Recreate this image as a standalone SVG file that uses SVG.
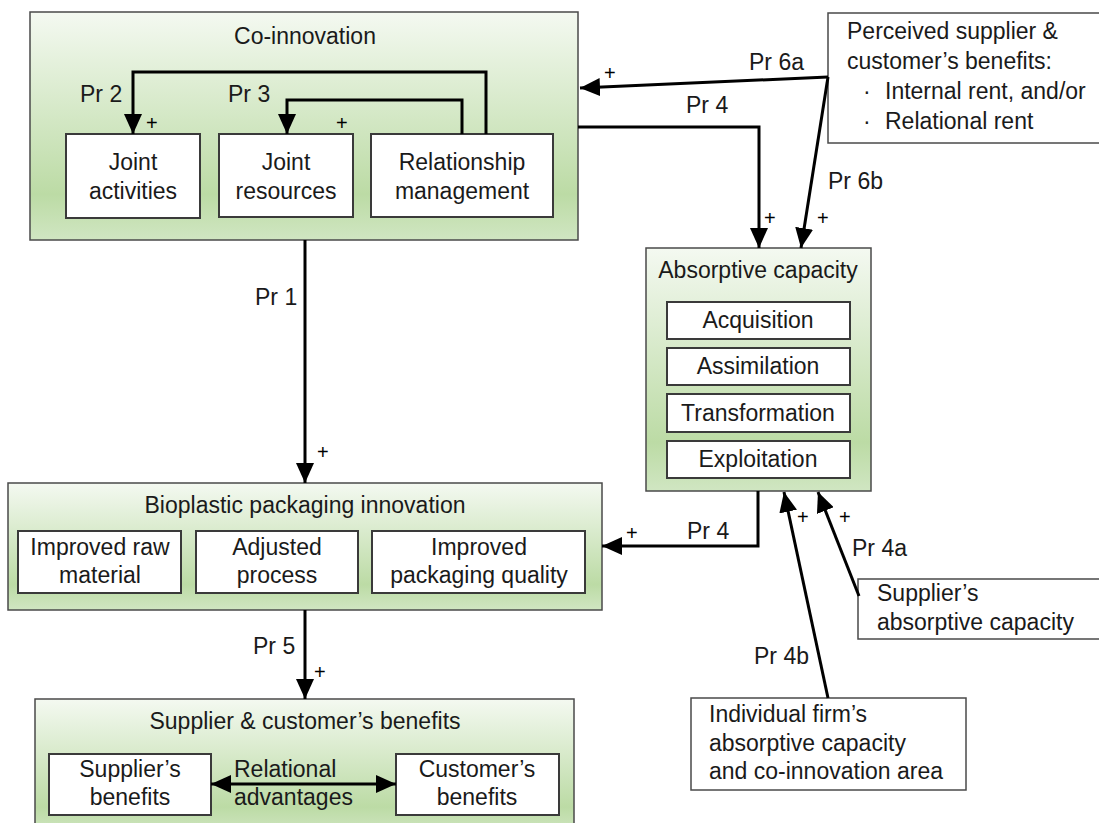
<svg xmlns="http://www.w3.org/2000/svg" width="1099" height="823" viewBox="0 0 1099 823">
  <defs>
    <linearGradient id="green" x1="0" y1="0" x2="0" y2="1">
      <stop offset="0" stop-color="#f4f9f1"/>
      <stop offset="0.8" stop-color="#bcdba5"/>
      <stop offset="1" stop-color="#d0e6c2"/>
    </linearGradient>
    <marker id="head" markerUnits="userSpaceOnUse" markerWidth="20" markerHeight="18" refX="20" refY="9" orient="auto-start-reverse">
      <path d="M0,0 L20,9 L0,18 z" fill="#000"/>
    </marker>
    <style>
      text { font-family: "Liberation Sans", Arial, sans-serif; font-size: 23px; fill: #1a1a1a; }
      .c { text-anchor: middle; }
      .plus { font-size: 20px; fill: #000; }
      .group { fill: url(#green); stroke: #4a4a4a; stroke-width: 1.5; }
      .item { fill: #fff; stroke: #3a3a3a; stroke-width: 2; }
      .note { fill: #fff; stroke: #4a4a4a; stroke-width: 1.5; }
      .link { fill: none; stroke: #000; stroke-width: 3; marker-end: url(#head); }
    </style>
  </defs>

  <rect width="1099" height="823" fill="#fff"/>

  <!-- Co-innovation -->
  <g id="co-innovation">
    <rect class="group" x="30" y="12" width="548" height="228"/>
    <text class="c" x="305" y="44">Co-innovation</text>
  </g>
  <g id="joint-activities">
    <rect class="item" x="66" y="134" width="134" height="84"/>
    <text class="c" x="133" y="170">Joint</text>
    <text class="c" x="133" y="199">activities</text>
  </g>
  <g id="joint-resources">
    <rect class="item" x="219" y="134" width="134" height="83"/>
    <text class="c" x="286" y="170">Joint</text>
    <text class="c" x="286" y="199">resources</text>
  </g>
  <g id="relationship-management">
    <rect class="item" x="371" y="134" width="182" height="83"/>
    <text class="c" x="462" y="170">Relationship</text>
    <text class="c" x="462" y="199">management</text>
  </g>

  <!-- Perceived benefits -->
  <g id="perceived-benefits">
    <rect class="note" x="828" y="13" width="282" height="130"/>
    <text x="847" y="39">Perceived supplier &amp;</text>
    <text x="847" y="69">customer’s benefits:</text>
    <text x="863" y="99">·</text>
    <text x="885" y="99">Internal rent, and/or</text>
    <text x="863" y="129">·</text>
    <text x="885" y="129">Relational rent</text>
  </g>

  <!-- Absorptive capacity -->
  <g id="absorptive-capacity">
    <rect class="group" x="646" y="248" width="225" height="243"/>
    <text class="c" x="758" y="278">Absorptive capacity</text>
  </g>
  <g id="acquisition">
    <rect class="item" x="667" y="302" width="183" height="37"/>
    <text class="c" x="758" y="328">Acquisition</text>
  </g>
  <g id="assimilation">
    <rect class="item" x="667" y="348" width="183" height="37"/>
    <text class="c" x="758" y="374">Assimilation</text>
  </g>
  <g id="transformation">
    <rect class="item" x="667" y="394" width="183" height="38"/>
    <text class="c" x="758" y="421">Transformation</text>
  </g>
  <g id="exploitation">
    <rect class="item" x="667" y="441" width="183" height="37"/>
    <text class="c" x="758" y="467">Exploitation</text>
  </g>

  <!-- Bioplastic packaging innovation -->
  <g id="bioplastic-innovation">
    <rect class="group" x="8" y="483" width="594" height="127"/>
    <text class="c" x="305" y="513">Bioplastic packaging innovation</text>
  </g>
  <g id="improved-raw-material">
    <rect class="item" x="18" y="531" width="163" height="62"/>
    <text class="c" x="100" y="555">Improved raw</text>
    <text class="c" x="100" y="583">material</text>
  </g>
  <g id="adjusted-process">
    <rect class="item" x="196" y="531" width="162" height="62"/>
    <text class="c" x="277" y="555">Adjusted</text>
    <text class="c" x="277" y="583">process</text>
  </g>
  <g id="improved-packaging-quality">
    <rect class="item" x="372" y="531" width="213" height="62"/>
    <text class="c" x="479" y="555">Improved</text>
    <text class="c" x="479" y="583">packaging quality</text>
  </g>

  <!-- Supplier & customer's benefits -->
  <g id="benefits">
    <rect class="group" x="35" y="699" width="539" height="135"/>
    <text class="c" x="305" y="729">Supplier &amp; customer’s benefits</text>
  </g>
  <g id="supplier-benefits">
    <rect class="item" x="49" y="754" width="162" height="61"/>
    <text class="c" x="130" y="777">Supplier’s</text>
    <text class="c" x="130" y="805">benefits</text>
  </g>
  <g id="customer-benefits">
    <rect class="item" x="396" y="754" width="163" height="61"/>
    <text class="c" x="477" y="777">Customer’s</text>
    <text class="c" x="477" y="805">benefits</text>
  </g>

  <!-- External influences on absorptive capacity -->
  <g id="supplier-absorptive">
    <rect class="note" x="858" y="579" width="252" height="60"/>
    <text x="877" y="601">Supplier’s</text>
    <text x="877" y="630">absorptive capacity</text>
  </g>
  <g id="individual-firm">
    <rect class="note" x="691" y="698" width="275" height="92"/>
    <text x="709" y="722">Individual firm’s</text>
    <text x="709" y="751">absorptive capacity</text>
    <text x="709" y="779">and co-innovation area</text>
  </g>

  <!-- Connectors -->
  <g id="connectors">
    <!-- Pr 2 / Pr 3 inside co-innovation -->
    <path class="link" d="M486,134 V72 H133 V134"/>
    <path class="link" d="M462,134 V100 H287 V134"/>
    <text x="80" y="102">Pr 2</text>
    <text class="plus" x="146" y="130">+</text>
    <text x="228" y="102">Pr 3</text>
    <text class="plus" x="336" y="130">+</text>

    <!-- Pr 6a / Pr 6b -->
    <path class="link" d="M828,77 L580,88"/>
    <path class="link" d="M828,77 L801,248"/>
    <text x="749" y="70">Pr 6a</text>
    <text class="plus" x="604" y="80">+</text>
    <text x="828" y="189">Pr 6b</text>
    <text class="plus" x="817" y="225">+</text>

    <!-- Pr 4: co-innovation to absorptive capacity -->
    <path class="link" d="M578,127 H759 V248"/>
    <text x="686" y="113">Pr 4</text>
    <text class="plus" x="764" y="225">+</text>

    <!-- Pr 1 -->
    <path class="link" d="M305,240 V483"/>
    <text x="255" y="305">Pr 1</text>
    <text class="plus" x="317" y="459">+</text>

    <!-- Pr 4: absorptive capacity to bioplastic innovation -->
    <path class="link" d="M758,491 V546 H602"/>
    <text x="687" y="539">Pr 4</text>
    <text class="plus" x="626" y="540">+</text>

    <!-- Pr 4a / Pr 4b -->
    <path class="link" d="M859,596 L818,492"/>
    <path class="link" d="M828,698 L784,492"/>
    <text x="852" y="556">Pr 4a</text>
    <text class="plus" x="839" y="524">+</text>
    <text x="754" y="664">Pr 4b</text>
    <text class="plus" x="797" y="524">+</text>

    <!-- Pr 5 -->
    <path class="link" d="M305,610 V699"/>
    <text x="253" y="654">Pr 5</text>
    <text class="plus" x="314" y="679">+</text>

    <!-- Relational advantages -->
    <path class="link" d="M211,784 H396" marker-start="url(#head)"/>
    <text x="234" y="777">Relational</text>
    <text x="234" y="805">advantages</text>
  </g>
</svg>
